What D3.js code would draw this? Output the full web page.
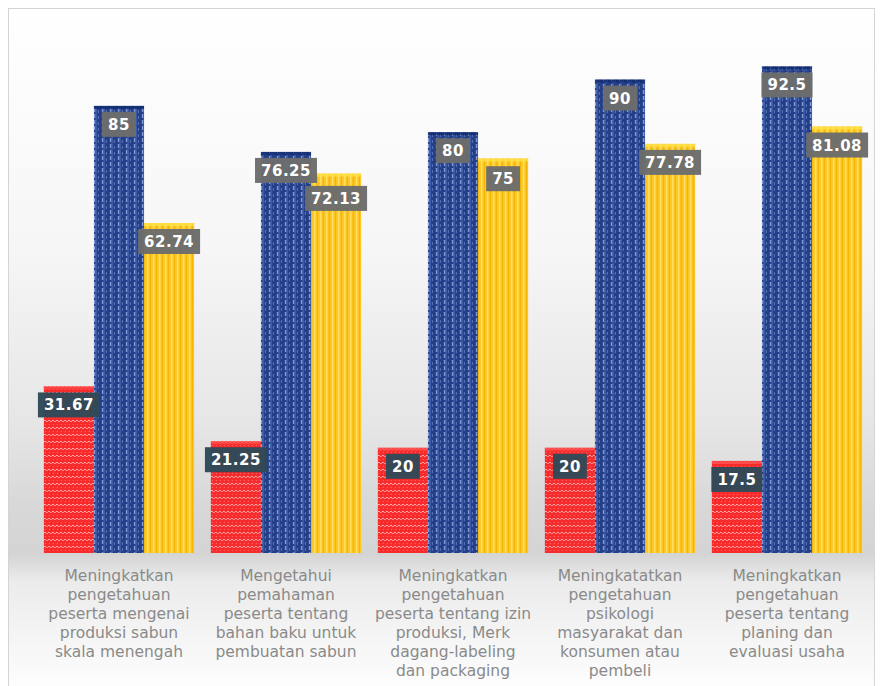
<!DOCTYPE html>
<html>
<head>
<meta charset="utf-8">
<script src="https://cdn.jsdelivr.net/npm/d3@7"></script>
<style>
  html, body { margin: 0; padding: 0; background: #ffffff; }
  svg { display: block; }
</style>
</head>
<body>
<svg id="chart" width="886" height="686"></svg>
<script>
// ---- data ----
const categories = [
  ["Meningkatkan", "pengetahuan", "peserta mengenai", "produksi sabun", "skala menengah"],
  ["Mengetahui", "pemahaman", "peserta tentang", "bahan baku untuk", "pembuatan sabun"],
  ["Meningkatkan", "pengetahuan", "peserta tentang izin", "produksi, Merk", "dagang-labeling", "dan packaging"],
  ["Meningkatatkan", "pengetahuan", "psikologi", "masyarakat dan", "konsumen atau", "pembeli"],
  ["Meningkatkan", "pengetahuan", "peserta tentang", "planing dan", "evaluasi usaha"]
];
const seriesRed = [31.67, 21.25, 20, 20, 17.5];
const seriesBlue = [85, 76.25, 80, 90, 92.5];
const seriesYellow = [62.74, 72.13, 75, 77.78, 81.08];
const valueLabels = [
  ["31.67", "85", "62.74"],
  ["21.25", "76.25", "72.13"],
  ["20", "80", "75"],
  ["20", "90", "77.78"],
  ["17.5", "92.5", "81.08"]
];

const series = [seriesRed, seriesBlue, seriesYellow];
const svg = d3.select("#chart");

// ---- defs: background gradient + bar patterns ----
const defs = svg.append("defs");
const bg = defs.append("linearGradient").attr("id", "bg").attr("x1", 0).attr("y1", 0).attr("x2", 0).attr("y2", 1);
[[0, "#ffffff"], [0.35, "#f6f6f6"], [0.6, "#e6e6e6"], [0.72, "#d8d8d8"], [0.79, "#d4d4d4"], [0.83, "#ebebeb"], [0.92, "#f6f6f6"], [1, "#ffffff"]]
  .forEach(([o, c]) => bg.append("stop").attr("offset", o).attr("stop-color", c));

// red: horizontal dotted bands
const pr = defs.append("pattern").attr("id", "pRed").attr("patternUnits", "userSpaceOnUse").attr("width", 4).attr("height", 7);
pr.append("rect").attr("width", 4).attr("height", 7).attr("fill", "#f72b2b");
pr.append("rect").attr("x", 0).attr("y", 0).attr("width", 2).attr("height", 1).attr("fill", "#ffb0b0");
pr.append("rect").attr("x", 2).attr("y", 1).attr("width", 2).attr("height", 1).attr("fill", "#ff9090");
pr.append("rect").attr("x", 1).attr("y", 4).attr("width", 1).attr("height", 1).attr("fill", "#ff6a6a");

// blue: vertical dashed light lines
const pb = defs.append("pattern").attr("id", "pBlue").attr("patternUnits", "userSpaceOnUse").attr("width", 8).attr("height", 6);
pb.append("rect").attr("width", 8).attr("height", 6).attr("fill", "#243f88");
pb.append("rect").attr("x", 2).attr("y", 0).attr("width", 1.5).attr("height", 4).attr("fill", "#8aa3dc");
pb.append("rect").attr("x", 3.5).attr("y", 0).attr("width", 1.5).attr("height", 6).attr("fill", "#3f5fa8");
pb.append("rect").attr("x", 6).attr("y", 2).attr("width", 1).attr("height", 3).attr("fill", "#5a78bc");

// yellow: vertical lighter stripes
const py = defs.append("pattern").attr("id", "pYellow").attr("patternUnits", "userSpaceOnUse").attr("width", 6).attr("height", 6);
py.append("rect").attr("width", 6).attr("height", 6).attr("fill", "#fdc623");
py.append("rect").attr("x", 1).attr("y", 0).attr("width", 1.5).attr("height", 6).attr("fill", "#ffe066");
py.append("rect").attr("x", 4).attr("y", 0).attr("width", 1).attr("height", 6).attr("fill", "#f2b400");

// ---- background frame ----
svg.append("rect").attr("x", 8.5).attr("y", 8.5).attr("width", 866).attr("height", 690)
  .attr("fill", "url(#bg)").attr("stroke", "#d4d4d4").attr("stroke-width", 1);

// ---- scales ----
const x0 = d3.scaleBand().domain(d3.range(categories.length)).range([35.5, 870.5]).paddingInner(0.1).paddingOuter(0.05);
const x1 = d3.scaleBand().domain([0, 1, 2]).range([0, x0.bandwidth()]).padding(0);
const y = d3.scaleLinear().domain([0, 100]).range([553, 27]);

const fills = ["url(#pRed)", "url(#pBlue)", "url(#pYellow)"];
const capColors = ["#ff4848", "#0f2a6e", "#ffe14a"];

const groups = svg.append("g").selectAll("g").data(categories).join("g")
  .attr("transform", (d, i) => `translate(${x0(i)},0)`);

groups.each(function(cat, gi) {
  const g = d3.select(this);
  series.forEach((s, si) => {
    const v = s[gi];
    g.append("rect")
      .attr("x", x1(si)).attr("width", x1.bandwidth())
      .attr("y", y(v)).attr("height", y(0) - y(v))
      .attr("fill", fills[si]);
    g.append("rect")
      .attr("x", x1(si)).attr("width", x1.bandwidth())
      .attr("y", y(v)).attr("height", 3)
      .attr("fill", capColors[si]).attr("opacity", 0.8);
  });
});

// ---- value labels ----
const labelG = svg.append("g");
const boxH = 25;
categories.forEach((cat, gi) => {
  const boxes = [];
  series.forEach((s, si) => {
    const v = s[gi];
    const txt = valueLabels[gi][si];
    const cx = x0(gi) + x1(si) + x1.bandwidth() / 2;
    let top = y(v) + 6;
    if (si === 2) {
      const b = boxes[1];
      if (top < b.top + boxH + 2 && top + boxH > b.top) top = b.top + boxH + 3;
    }
    const t = labelG.append("text")
      .attr("x", cx).attr("y", top + 18)
      .attr("text-anchor", "middle")
      .attr("font-family", "DejaVu Sans, Verdana, sans-serif")
      .attr("font-weight", "bold")
      .attr("font-size", 15)
      .attr("letter-spacing", 0.5)
      .attr("fill", "#ffffff")
      .text(txt);
    const w = t.node().getComputedTextLength() + 12;
    labelG.insert("rect", () => t.node())
      .attr("x", cx - w / 2).attr("y", top)
      .attr("width", w).attr("height", boxH)
      .attr("fill", si === 0 ? "#304957" : "#6c6c6c")
      .attr("opacity", 0.97);
    boxes.push({ top });
  });
});

// ---- category labels ----
const catG = svg.append("g");
categories.forEach((lines, gi) => {
  const cx = x0(gi) + x0.bandwidth() / 2;
  const t = catG.append("text")
    .attr("text-anchor", "middle")
    .attr("font-family", "DejaVu Sans, sans-serif")
    .attr("font-size", 15.5)
    .attr("fill", "#8a8a8a");
  lines.forEach((ln, li) => {
    t.append("tspan").attr("x", cx).attr("y", 581 + li * 19).text(ln);
  });
});
</script>
</body>
</html>
